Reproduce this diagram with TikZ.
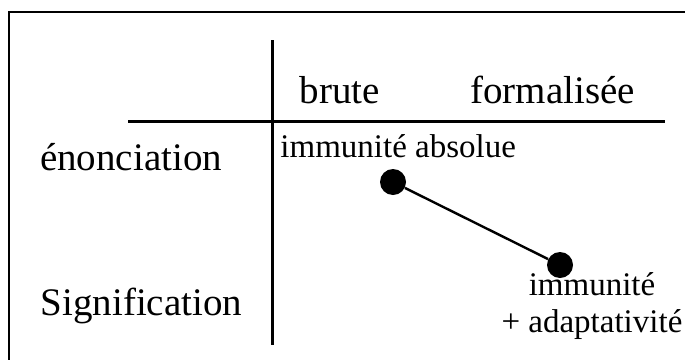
\documentclass[tikz,border=0pt]{standalone}
\usepackage{fontspec}
\setmainfont{Liberation Serif}

\begin{document}
\begin{tikzpicture}[x=0.5pt,y=-0.5pt,
    lab/.style={inner sep=0pt, font=\fontsize{19.5}{22}\selectfont},
    small/.style={inner sep=0pt, align=center, font=\fontsize{16.5}{18.5}\selectfont},
    dot/.style={circle, fill=black, inner sep=0pt, minimum size=13pt}]
    \useasboundingbox (0,0) rectangle (685,359);
    \clip (0,0) rectangle (685,359);
    % cadre
    \draw[line width=1pt] (9,400) -- (9,12) -- (720,12);
    % axes
    \draw[line width=1.5pt] (272,40) -- (272,345);
    \draw[line width=1.5pt] (128,121) -- (665,121);
    % en-tetes
    \node[lab, anchor=base] (brute) at (340,103) {brute};
    \node[lab, anchor=base] (formel) at (552.5,103) {formalisée};
    \node[lab, anchor=base] (enonc) at (131,170) {énonciation};
    \node[lab, anchor=base] (signif) at (141.5,315) {Signification};
    % points
    \node[dot] (absolue) at (393,182) {};
    \node[dot] (adapt) at (560,265) {};
    \draw[line width=1.2pt] (absolue) -- (adapt);
    \node[small, anchor=base west] (labA) at (280,157) {immunité absolue};
    \node[small, anchor=base] (labB) at (592,332) {immunité\\+ adaptativité};

\end{tikzpicture}
\end{document}
